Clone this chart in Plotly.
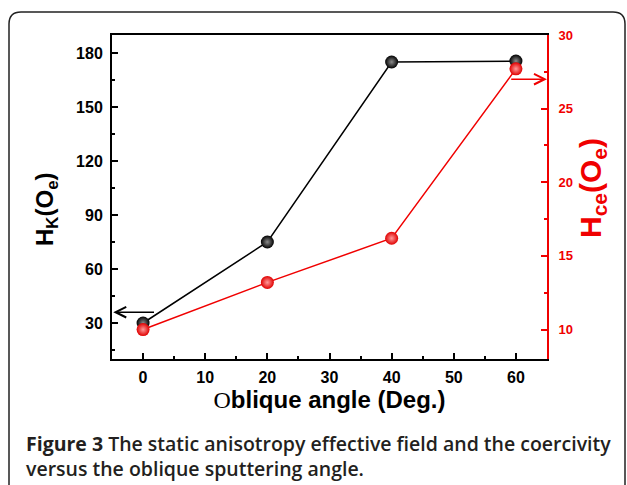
import plotly.graph_objects as go

# ---- data ----
angles = [0, 20, 40, 60]
hk_values = [30, 75, 175, 175.5]
hce_values = [10.0, 13.2, 16.2, 27.7]
x_range = [-5, 65]
hk_range = [10, 190]
hce_range = [8, 30]
hk_arrow_y = 36      # arrow pointing to left axis
hce_arrow_y = 27     # arrow pointing to right axis
hk_arrow_x = [2, -4.8]
hce_arrow_x = [59, 65]

RED = "#f00000"
BLACK = "#000000"
TICKFONT = "Liberation Sans"

# plot area in pixels: x 112..547, y 35..359
L, R, T, B = 112, 547, 35, 359
def px(p):
    return (p - L) / (R - L)
def py(p):
    return (B - p) / (B - T)

fig = go.Figure()
fig.add_trace(go.Scatter(
    x=angles, y=hk_values, mode="lines+markers", name="Hk",
    line=dict(color=BLACK, width=1.5),
    marker=dict(size=13, color=BLACK, line=dict(width=0),
                gradient=dict(type="radial", color="#8c8c8c")),
    showlegend=False,
))
fig.add_trace(go.Scatter(
    x=angles, y=hce_values, mode="lines+markers", name="Hce", yaxis="y2",
    line=dict(color=RED, width=1.5),
    marker=dict(size=13, color="#e00000", line=dict(width=0),
                gradient=dict(type="radial", color="#ff9a9a")),
    showlegend=False,
))

fig.update_layout(
    width=627, height=485,
    margin=dict(l=L, r=627 - R, t=T, b=485 - B, autoexpand=False),
    paper_bgcolor="white", plot_bgcolor="white",
    xaxis=dict(
        range=x_range, tick0=0, dtick=10, ticks="inside", ticklen=6, tickwidth=2,
        tickcolor=BLACK, showline=True, linecolor=BLACK, linewidth=2, mirror=True,
        showgrid=False, zeroline=False, ticklabelstandoff=3,
        minor=dict(dtick=5, ticks="inside", ticklen=3, tickwidth=2, tickcolor=BLACK, showgrid=False),
        tickfont=dict(family=TICKFONT, size=16, color=BLACK, weight="bold"),
        title=dict(text="<span style='font-family:Liberation Serif;font-weight:normal'>O</span>blique angle (Deg.)",
                   font=dict(family=TICKFONT, size=24, color=BLACK, weight="bold"), standoff=5),
    ),
    yaxis=dict(
        range=hk_range, tick0=0, dtick=30, ticks="inside", ticklen=6, tickwidth=2,
        tickcolor=BLACK, showline=True, linecolor=BLACK, linewidth=2,
        showgrid=False, zeroline=False, ticklabelstandoff=4,
        minor=dict(dtick=15, ticks="inside", ticklen=3, tickwidth=2, tickcolor=BLACK, showgrid=False),
        tickfont=dict(family=TICKFONT, size=16, color=BLACK, weight="bold"),
    ),
    yaxis2=dict(
        range=hce_range, tick0=0, dtick=5, overlaying="y", side="right",
        ticks="inside", ticklen=6, tickwidth=2, tickcolor=RED,
        showline=True, linecolor=RED, linewidth=2, showgrid=False, zeroline=False,
        ticklabelstandoff=7,
        minor=dict(dtick=2.5, ticks="inside", ticklen=3, tickwidth=2, tickcolor=RED, showgrid=False),
        tickfont=dict(family=TICKFONT, size=13, color=RED, weight="bold"),
    ),
)

# y-axis titles (placed to match the reference)
fig.add_annotation(
    xref="paper", yref="paper", x=px(46), y=py(210), xanchor="center", yanchor="middle",
    textangle=-90, showarrow=False,
    text="H<sub>K</sub>(O<sub>e</sub>)",
    font=dict(family=TICKFONT, size=24, color=BLACK, weight="bold"),
)
fig.add_annotation(
    xref="paper", yref="paper", x=px(592), y=py(188), xanchor="center", yanchor="middle",
    textangle=-90, showarrow=False,
    text="H<sub>ce</sub>(O<sub>e</sub>)",
    font=dict(family=TICKFONT, size=30, color=RED, weight="bold"),
)

# axis-indicating arrows
fig.add_annotation(x=hk_arrow_x[1], y=hk_arrow_y, ax=hk_arrow_x[0], ay=hk_arrow_y,
                   xref="x", yref="y", axref="x", ayref="y", text="", showarrow=True,
                   arrowhead=5, arrowsize=1.4, arrowwidth=1.5, arrowcolor=BLACK, standoff=0)
fig.add_annotation(x=hce_arrow_x[1], y=hce_arrow_y, ax=hce_arrow_x[0], ay=hce_arrow_y,
                   xref="x", yref="y2", axref="x", ayref="y2", text="", showarrow=True,
                   arrowhead=5, arrowsize=1.4, arrowwidth=1.5, arrowcolor=RED, standoff=0)

# caption
fig.add_annotation(
    xref="paper", yref="paper", x=px(24), y=py(456), xanchor="left", yanchor="middle",
    align="left", showarrow=False,
    text="<span style='font-weight:700'>Figure 3</span> The static anisotropy effective field and the coercivity<br>versus the oblique sputtering angle.",
    font=dict(family="Open Sans", size=19.5, color="#231f20", weight=600),
)

# rounded frame (open at bottom)
r = 12
x0, x1, y0, y1 = 9, 625, 12, 495
path = (f"M {px(x0)},{py(y1)} L {px(x0)},{py(y0 + r)} "
        f"Q {px(x0)},{py(y0)} {px(x0 + r)},{py(y0)} "
        f"L {px(x1 - r)},{py(y0)} Q {px(x1)},{py(y0)} {px(x1)},{py(y0 + r)} "
        f"L {px(x1)},{py(y1)}")
fig.add_shape(type="path", path=path, xref="paper", yref="paper",
              line=dict(color="#222222", width=1.5), layer="below")

fig.write_html("out.html", config={"displayModeBar": False},
               post_script="document.body.style.margin='0';")
